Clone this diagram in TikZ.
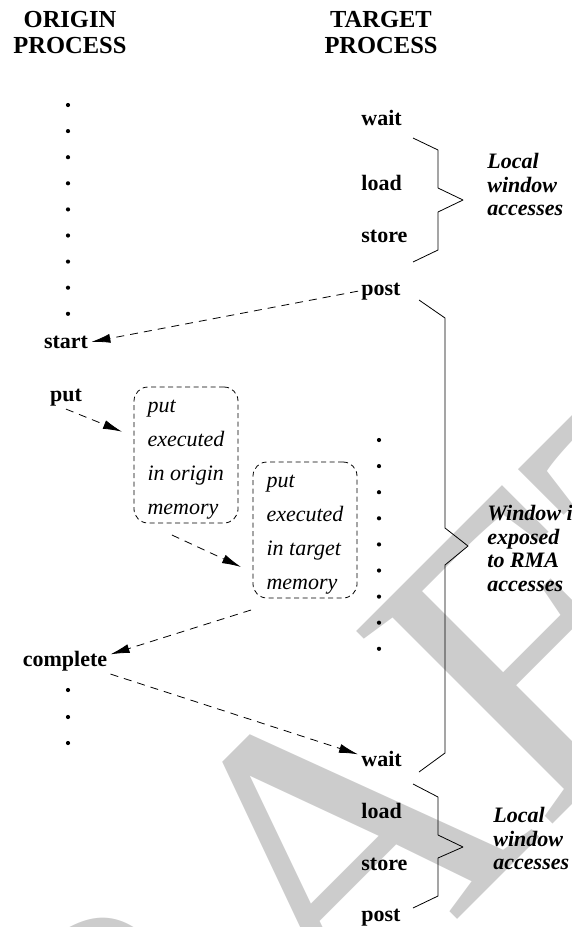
\documentclass[tikz,border=0pt]{standalone}
\usepackage{fontspec}
\setmainfont{Liberation Serif}
\usetikzlibrary{arrows.meta}
\begin{document}
\begin{tikzpicture}[x=1pt,y=-1pt,line join=round,>={Latex[length=19pt,width=9pt]},line width=.8pt]
\tikzset{word/.style={font=\fontsize{22}{24}\selectfont\bfseries,inner sep=3pt,anchor=base},
  head/.style={font=\fontsize{24.5}{26}\selectfont\bfseries,align=center,anchor=north,inner sep=0pt},
  note/.style={font=\fontsize{22}{23.5}\selectfont\bfseries\itshape,align=left,anchor=north west,inner sep=0pt},
  membox/.style={draw,dash pattern=on 5pt off 3.5pt,rounded corners=14pt,align=left,font=\fontsize{22}{34}\selectfont\itshape,minimum width=104pt,minimum height=136pt,inner sep=0pt,outer sep=12pt},
  msg/.style={->,dash pattern=on 8pt off 6pt}}
\useasboundingbox (0,0) rectangle (571,927);
% watermark
\node[text=gray!40,font=\fontsize{420}{420}\selectfont,rotate=45,anchor=base west,inner sep=0pt] (draft) at (-85,1462) {DRAFT};
% headings
\node[head] (ohead) at (70,10.5) {ORIGIN\\PROCESS};
\node[head] (thead) at (381,10.5) {TARGET\\PROCESS};
% origin side
\foreach \k in {0,...,8}
  \fill (68,105+26.1*\k) circle (2.1pt);
\node[word] (start) at (66,348) {start};
\node[word] (put) at (66,401) {put};
\node[word] (complete) at (65,666) {complete};
\foreach \y in {690,717,743}
  \fill (68,\y) circle (2.1pt);
\node[membox] (origmem) at (186,455) {\rule{0pt}{22pt}put\\executed\\in origin\\memory};
\node[membox] (targmem) at (305,530) {\rule{0pt}{22pt}put\\executed\\in target\\memory};
% target side
\node[word,anchor=base west] (wait1) at (358,125) {wait};
\node[word,anchor=base west] (load1) at (358,190) {load};
\node[word,anchor=base west] (store1) at (358,242) {store};
\node[word,anchor=base west] (post1) at (358,295) {post};
\foreach \k in {0,...,8}
  \fill (379,440+26.1*\k) circle (2.1pt);
\node[word,anchor=base west] (wait2) at (358,766) {wait};
\node[word,anchor=base west] (load2) at (358,818) {load};
\node[word,anchor=base west] (store2) at (358,870) {store};
\node[word,anchor=base west] (post2) at (358,921) {post};
% braces
\draw (413,138)--(438,150)--(438,188)--(463,200)--(438,212)--(438,250)--(413,262);
\draw (419,300)--(445,318)--(445,528)--(468,546)--(445,565)--(445,753)--(419,772);
\draw (413,784)--(438,797)--(438,835)--(463,847)--(438,858)--(438,896)--(413,908);
\node[note] (local1) at (487,153) {Local\\window\\accesses};
\node[note] (expose) at (487,505) {Window is\\exposed\\to RMA\\accesses};
\node[note] (local2) at (493,807) {Local\\window\\accesses};
% messages
\draw[msg] (post1.west) -- (start.east);
\draw[msg] (put.south) -- (origmem.160);
\draw[msg] (origmem.260) -- (targmem.210);
\draw[msg] (targmem.236) -- (complete.8);
\draw[msg] (complete.south east) -- (wait2.170);
\end{tikzpicture}
\end{document}
